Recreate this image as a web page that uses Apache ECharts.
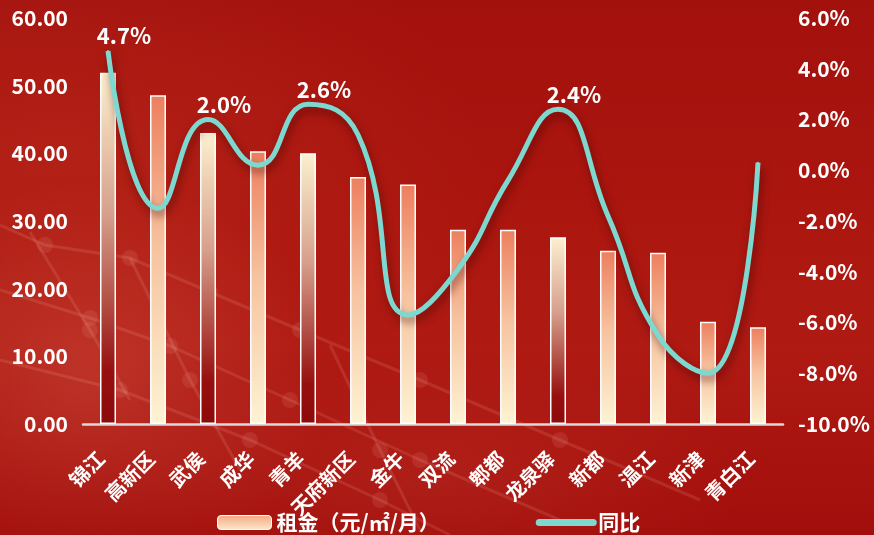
<!DOCTYPE html>
<html>
<head>
<meta charset="utf-8">
<script src="https://cdn.jsdelivr.net/npm/echarts@6/dist/echarts.min.js"></script>
<style>
  html, body { margin: 0; padding: 0; }
  #chart {
    width: 874px; height: 535px;
    background:
      radial-gradient(ellipse 240px 200px at 90px 380px, rgba(225,110,90,0.30), rgba(225,110,90,0) 100%),
      radial-gradient(ellipse 320px 120px at 430px 480px, rgba(220,100,80,0.16), rgba(220,100,80,0) 100%),
      radial-gradient(ellipse 420px 240px at 60px 150px, rgba(200,60,40,0.30), rgba(200,60,40,0) 100%),
      linear-gradient(180deg, #a3110d 0%, #ab160f 40%, #af1a13 65%, #a20e0b 100%);
  }
</style>
</head>
<body>
<div id="chart"></div>
<script>
// 各区域租金与同比
const districts = ['锦江', '高新区', '武侯', '成华', '青羊', '天府新区', '金牛', '双流', '郫都', '龙泉驿', '新都', '温江', '新津', '青白江'];
const rent = [51.9, 48.6, 43.0, 40.3, 40.0, 36.5, 35.4, 28.7, 28.7, 27.6, 25.6, 25.3, 15.1, 14.3];
const yoy = [4.7, -1.5, 2.0, 0.2, 2.6, 1.4, -5.7, -3.9, -0.4, 2.4, -1.8, -6.5, -8.0, 0.3];
const rentTicks = { min: 0, max: 60, interval: 10 };
const yoyTicks = { min: -10, max: 6, interval: 2 };
const labelledDistricts = ['锦江', '武侯', '青羊', '龙泉驿'];

// bar fills: cream top fading to deep red, or coral top fading to cream
const darkBaseDistricts = ['锦江', '武侯', '青羊', '龙泉驿'];
const grad = (stops) => new echarts.graphic.LinearGradient(0, 0, 0, 1, stops);
const creamToRed = grad([
  { offset: 0, color: '#fcf0cf' },
  { offset: 0.4, color: '#d6a08c' },
  { offset: 0.85, color: '#97100f' },
  { offset: 1, color: '#8c0a0a' }
]);
const coralToCream = grad([
  { offset: 0, color: '#ec7f5e' },
  { offset: 0.45, color: '#f6c19e' },
  { offset: 1, color: '#fdf3d3' }
]);

const FONT = '"Noto Sans CJK SC", "Noto Sans", sans-serif';
const chart = echarts.init(document.getElementById('chart'), null, { renderer: 'canvas' });

// soft network streaks across the lower-left background
const deco = [];
const streaks = [
  [[0, 225], [45, 245], [130, 258], [210, 292], [300, 330], [420, 380], [560, 440], [700, 500]],
  [[0, 290], [90, 318], [170, 346], [290, 400], [420, 460], [560, 520]],
  [[0, 360], [120, 390], [250, 440], [380, 500], [450, 535]],
  [[30, 232], [90, 330], [130, 400]],
  [[130, 258], [190, 380], [240, 470]],
  [[330, 345], [380, 450], [420, 530]]
];
streaks.forEach(pts => {
  deco.push({ type: 'polyline', silent: true, z: -10,
    shape: { points: pts },
    style: { stroke: 'rgba(255,190,180,0.13)', lineWidth: 3, fill: null,
             shadowBlur: 6, shadowColor: 'rgba(255,190,180,0.25)' } });
  pts.slice(1, -1).forEach(p => deco.push({ type: 'circle', silent: true, z: -10,
    shape: { cx: p[0], cy: p[1], r: 8 },
    style: { fill: 'rgba(255,190,180,0.10)', shadowBlur: 8, shadowColor: 'rgba(255,190,180,0.3)' } }));
});

chart.setOption({
  backgroundColor: 'transparent',
  animation: false,
  graphic: deco,
  textStyle: { fontFamily: FONT },
  grid: { left: 83, right: 91, top: 18, bottom: 111 },
  legend: {
    left: 212, bottom: -3,
    itemWidth: 54, itemHeight: 14, itemGap: 96,
    textStyle: { color: '#fff', fontSize: 21, fontWeight: 'bold', fontFamily: FONT },
    data: [
      { name: '租金（元/㎡/月）', itemStyle: { color: grad([{ offset: 0, color: '#f3a783' }, { offset: 1, color: '#fde9cc' }]), borderColor: '#fff', borderWidth: 1 } },
      { name: '同比', itemStyle: { opacity: 0 }, lineStyle: { color: '#7dd8d0', width: 7, cap: 'round' } }
    ]
  },
  xAxis: {
    type: 'category',
    data: districts,
    axisLine: { lineStyle: { color: '#d9d9d9', width: 2.5 } },
    axisTick: { show: false },
    axisLabel: { color: '#fff', fontSize: 20, fontWeight: 'bold', rotate: 45, interval: 0, margin: 24, padding: [0, 10, 0, 0] }
  },
  yAxis: [
    {
      type: 'value', ...rentTicks,
      axisLine: { show: false }, axisTick: { show: false }, splitLine: { show: false },
      axisLabel: { color: '#fff', fontSize: 21, fontWeight: 'bold', margin: 15, formatter: v => v.toFixed(2) }
    },
    {
      type: 'value', ...yoyTicks,
      axisLine: { show: false }, axisTick: { show: false }, splitLine: { show: false },
      axisLabel: { color: '#fff', fontSize: 21, fontWeight: 'bold', margin: 15, formatter: v => v.toFixed(1) + '%' }
    }
  ],
  series: [
    {
      name: '租金（元/㎡/月）',
      type: 'bar',
      barWidth: 16,
      data: rent.map((v, i) => ({
        value: v,
        itemStyle: { color: darkBaseDistricts.includes(districts[i]) ? creamToRed : coralToCream }
      })),
      itemStyle: { borderColor: '#ffffff', borderWidth: 1.5 }
    },
    {
      name: '同比',
      type: 'line',
      yAxisIndex: 1,
      smooth: 0.5,
      symbol: 'circle',
      symbolSize: 2,
      itemStyle: { color: '#7dd8d0' },
      lineStyle: {
        color: '#7dd8d0', width: 5,
        shadowColor: 'rgba(60,0,0,0.55)', shadowBlur: 8, shadowOffsetX: 2, shadowOffsetY: 5
      },
      data: yoy.map((v, i) => ({
        value: v,
        label: {
          show: labelledDistricts.includes(districts[i]),
          position: 'top', offset: [16, 3], distance: 6,
          color: '#fff', fontSize: 22, fontWeight: 'bold',
          formatter: p => p.value.toFixed(1) + '%'
        }
      }))
    }
  ]
});
</script>
</body>
</html>
